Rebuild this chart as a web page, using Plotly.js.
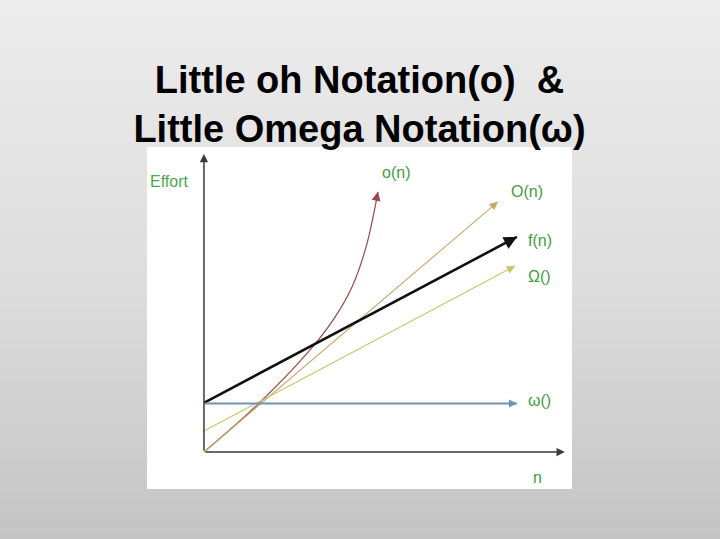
<!DOCTYPE html>
<html>
<head>
<meta charset="utf-8">
<script src="https://cdn.plot.ly/plotly-3.0.1.min.js"></script>
<style>
html,body{margin:0;padding:0;}
body{width:720px;height:539px;background:linear-gradient(to bottom,#ececec 0%,#dcdcdc 55%,#c4c4c4 100%);}
#chart{width:720px;height:539px;}
</style>
</head>
<body>
<div id="chart"></div>
<script>
// ---- data (n on x, effort on y) ----
var littleOhN      = [0, 1.73, 3.39, 4.15, 4.73, 5.18, 5.56];
var littleOhEffort = [0, 1.53, 3.26, 4.25, 5.27, 6.55, 8.31];
var bigOhN         = [0, 9.39];
var bigOhEffort    = [0, 7.99];
var fN             = [0, 10.0];
var fEffort        = [1.57, 6.87];
var bigOmegaN      = [0, 9.94];
var bigOmegaEffort = [0.67, 5.94];
var littleOmegaN      = [0, 10.0];
var littleOmegaEffort = [1.55, 1.55];
var axisEndN = 11.53;
var axisEndEffort = 9.52;
var labelTexts = ['o(n)', 'O(n)', 'f(n)', 'Ω()', 'ω()', 'n', 'Effort'];

var series = [
  {x: littleOhN, y: littleOhEffort, color: '#9a4848', width: 1.2, shape: 'spline', head: 1.5},
  {x: bigOhN, y: bigOhEffort, color: '#c8a66a', width: 1.1, shape: 'linear', head: 1.5},
  {x: fN, y: fEffort, color: '#111111', width: 2.6, shape: 'linear', head: 1.0},
  {x: bigOmegaN, y: bigOmegaEffort, color: '#c9c46a', width: 1.1, shape: 'linear', head: 1.5},
  {x: littleOmegaN, y: littleOmegaEffort, color: '#6f93b3', width: 2, shape: 'linear', head: 0.8}
];

var traces = series.map(function(s){
  return {x: s.x, y: s.y, mode: 'lines', type: 'scatter', hoverinfo: 'skip',
          line: {color: s.color, width: s.width, shape: s.shape}};
});

var annotations = [];
// axes with arrows
annotations.push({x: axisEndN, y: 0, ax: 0, ay: 0, xref: 'x', yref: 'y', axref: 'x', ayref: 'y',
  text: '', showarrow: true, arrowhead: 2, arrowsize: 1.1, arrowwidth: 1.5, arrowcolor: '#3a3a3a'});
annotations.push({x: 0, y: axisEndEffort, ax: 0, ay: 0, xref: 'x', yref: 'y', axref: 'x', ayref: 'y',
  text: '', showarrow: true, arrowhead: 2, arrowsize: 1.1, arrowwidth: 1.5, arrowcolor: '#3a3a3a'});
// arrow heads at the ends of each series
series.forEach(function(s){
  var n = s.x.length;
  var x1 = s.x[n-1], y1 = s.y[n-1];
  var x0 = s.x[n-2], y0 = s.y[n-2];
  var t = 0.3 / Math.hypot(x1-x0, y1-y0);
  annotations.push({x: x1, y: y1, ax: x1 - (x1-x0)*t, ay: y1 - (y1-y0)*t,
    xref: 'x', yref: 'y', axref: 'x', ayref: 'y', text: '', showarrow: true,
    arrowhead: 2, arrowsize: s.head, arrowwidth: s.width, arrowcolor: s.color});
});
// text labels
var green = '#3f9c3f';
var labelPos = [[6.13, 8.91], [10.32, 8.31], [10.73, 6.77], [10.73, 5.59], [10.73, 1.66], [10.67, -0.80], [-1.09, 8.63]];
labelTexts.forEach(function(t, i){
  annotations.push({x: labelPos[i][0], y: labelPos[i][1], xref: 'x', yref: 'y', text: t, showarrow: false,
    font: {family: 'Liberation Sans, Arial, sans-serif', size: 16, color: i === 6 ? '#4aa84a' : green}});
});

var layout = {
  width: 720, height: 539,
  paper_bgcolor: 'rgba(0,0,0,0)',
  plot_bgcolor: '#ffffff',
  margin: {l: 147, r: 148, t: 147, b: 50, pad: 0},
  showlegend: false,
  title: {
    text: '<b>Little oh Notation(o)  &<br>Little Omega Notation(ω)</b>',
    x: 0.5, xanchor: 'center', xref: 'paper',
    y: 0.828, yanchor: 'top', yref: 'container',
    font: {family: 'Liberation Sans, Arial, sans-serif', size: 38, color: '#000000'}
  },
  xaxis: {range: [-1.82, 11.76], showgrid: false, zeroline: false, showticklabels: false, showline: false, ticks: '', fixedrange: true},
  yaxis: {range: [-1.18, 9.74], showgrid: false, zeroline: false, showticklabels: false, showline: false, ticks: '', fixedrange: true},
  annotations: annotations
};

Plotly.newPlot('chart', traces, layout, {displayModeBar: false, staticPlot: true});
</script>
</body>
</html>
